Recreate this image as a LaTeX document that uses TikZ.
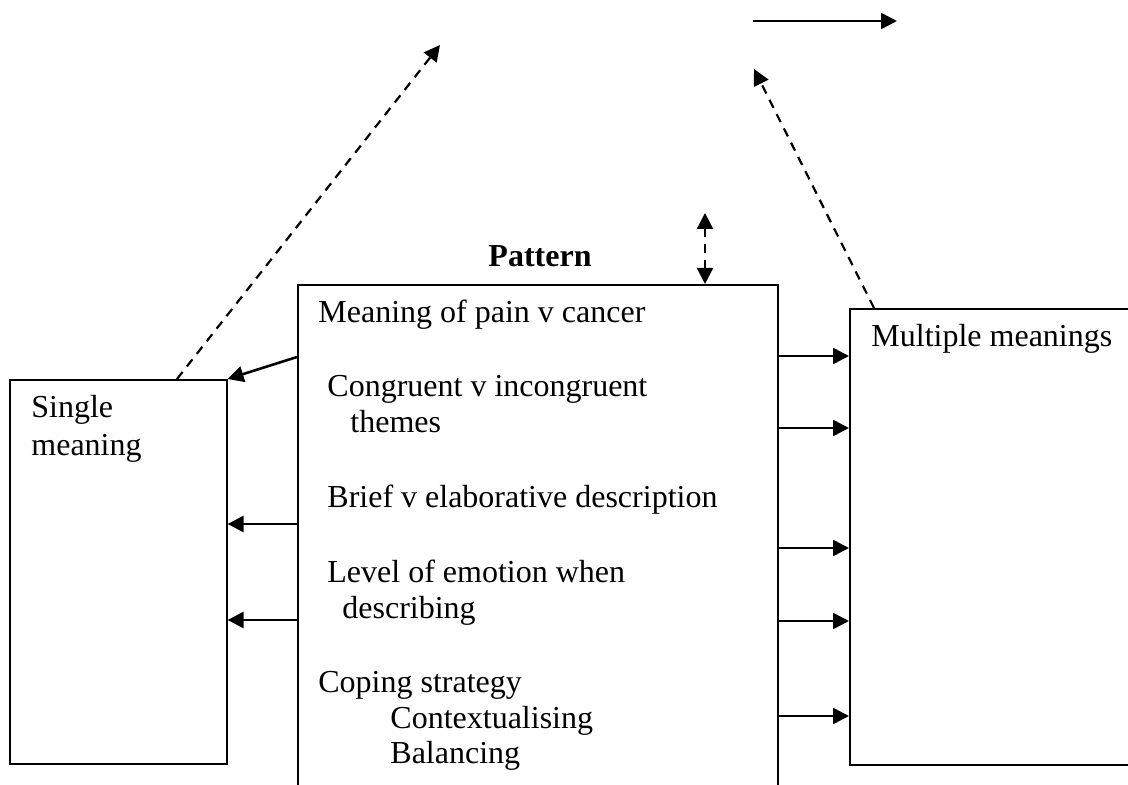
\documentclass[tikz,border=0pt]{standalone}
\usepackage{fontspec}
\setmainfont{Liberation Serif}
\usetikzlibrary{arrows.meta}
\begin{document}
\begin{tikzpicture}[x=0.5pt,y=-0.5pt,
  box/.style={draw,line width=0.8pt,rectangle,inner sep=0pt},
  txt/.style={anchor=base west,inner sep=0pt,font=\fontsize{16pt}{18pt}\selectfont},
  arr/.style={line width=1.3pt,-{Triangle[length=8pt,width=8pt]}},
  darr/.style={line width=1.1pt,dash pattern=on 4.5pt off 3.5pt,-{Triangle[length=8pt,width=8pt]}},
  ddarr/.style={line width=1.1pt,dash pattern=on 4.5pt off 3.5pt,{Triangle[length=8pt,width=8pt]}-{Triangle[length=8pt,width=8pt]}}]
\useasboundingbox (0,0) rectangle (1128,785);
\clip (0,0) rectangle (1128,785);
% boxes
\node[box,minimum width=108.5pt,minimum height=192pt,anchor=north west] (l) at (9,379) {};
\node[box,minimum width=240pt,minimum height=280pt,anchor=north west] (m) at (297,284) {};
\node[box,minimum width=160pt,minimum height=228pt,anchor=north west] (r) at (849,308) {};
% texts
\node[txt,font=\fontsize{16pt}{18pt}\selectfont\bfseries,anchor=base] (pat) at (540,267) {Pattern};
\node[txt] (t1) at (318,323) {Meaning of pain v cancer};
\node[txt] (t2) at (327,397) {Congruent v incongruent};
\node[txt] (t2b) at (350,433) {themes};
\node[txt] (t3) at (327,507) {Brief v elaborative description};
\node[txt] (t4) at (327,582) {Level of emotion when};
\node[txt] (t4b) at (342,618) {describing};
\node[txt] (t5) at (318,692) {Coping strategy};
\node[txt] (t5b) at (390,728) {Contextualising};
\node[txt] (t5c) at (390,763) {Balancing};
\node[txt] (s1) at (31,418) {Single};
\node[txt] (s2) at (31,456) {meaning};
\node[txt] (mm) at (871,347) {Multiple meanings};
% free ends
\coordinate (dl) at (440,45);
\coordinate (dr) at (754,69);
\coordinate (dd) at (705,213);
\coordinate (ta) at (753,21);
\coordinate (tb) at (897,21);
% connectors
\draw[arr] (m.west |- 0,357) -- (l.north east);
\draw[arr] (m.west |- 0,524) -- (l.east |- 0,524);
\draw[arr] (m.west |- 0,620) -- (l.east |- 0,620);
\draw[arr] (m.east |- 0,356) -- (r.west |- 0,356);
\draw[arr] (m.east |- 0,428) -- (r.west |- 0,428);
\draw[arr] (m.east |- 0,548) -- (r.west |- 0,548);
\draw[arr] (m.east |- 0,621) -- (r.west |- 0,621);
\draw[arr] (m.east |- 0,716) -- (r.west |- 0,716);
\draw[darr] (l.north -| 177,0) -- (dl);
\draw[darr] (r.north -| 874,0) -- (dr);
\draw[ddarr] (dd) -- (m.north -| dd);
\draw[arr] (ta) -- (tb);
\end{tikzpicture}
\end{document}
